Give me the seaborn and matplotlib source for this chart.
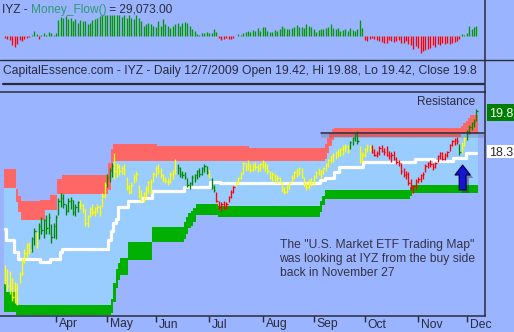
import numpy as np
import pandas as pd
import matplotlib
matplotlib.use("Agg")
import matplotlib.pyplot as plt
import matplotlib.transforms as mtransforms
from matplotlib.lines import Line2D
from matplotlib.patches import Rectangle, FancyArrowPatch
import seaborn as sns

# ---------------- data ----------------
ticker = "IYZ"
start_date, end_date = "2009-03-03", "2009-12-07"
market_holidays = ["2009-04-10", "2009-05-25", "2009-07-03", "2009-09-07", "2009-11-26"]
open_last = 19.42

high = [14.15, 14.00, 13.95, 13.70, 13.55, 13.50, 13.90, 14.40, 14.75, 14.95,
        15.00, 15.20, 15.50, 15.35, 15.70, 15.90, 15.85, 16.00, 16.05, 15.65,
        15.70, 16.00, 16.60, 16.80, 16.75, 16.40, 16.60, 16.65, 16.55, 16.40,
        16.50, 16.55, 16.40, 16.20, 16.00, 16.30, 16.40, 16.30, 16.40, 16.35,
        16.80, 17.20, 17.50, 17.70, 17.90, 18.25, 17.90, 17.85, 17.80, 17.85,
        17.40, 17.10, 17.20, 17.50, 17.60, 17.10, 16.90, 16.85, 17.05, 17.25,
        17.30, 17.55, 17.80, 17.85, 17.70, 17.50, 17.40, 17.35, 17.55, 17.65,
        18.05, 17.85, 17.75, 17.60, 17.55, 17.35, 17.20, 17.45, 17.50, 17.65,
        17.70, 17.75, 17.85, 17.80, 17.65, 17.35, 17.10, 16.85, 16.50, 16.45,
        16.50, 16.45, 16.70, 16.90, 17.05, 17.25, 17.40, 17.55, 17.95, 17.90,
        18.00, 17.85, 17.90, 17.95, 17.85, 17.90, 18.00, 17.95, 17.85, 17.60,
        17.55, 17.50, 17.45, 17.40, 17.20, 17.00, 17.10, 17.20, 17.45, 17.60,
        17.70, 17.75, 17.70, 17.40, 17.20, 17.30, 17.35, 17.45, 17.60, 17.70,
        17.65, 17.75, 17.90, 18.05, 18.20, 18.25, 18.35, 18.40, 18.45, 18.55,
        18.60, 18.55, 18.70, 18.85, 19.00, 19.05, 18.50, 18.30, 18.45, 18.60,
        18.55, 18.55, 18.40, 18.35, 18.50, 18.55, 18.45, 18.50, 18.35, 18.30,
        18.35, 18.10, 18.00, 17.90, 17.70, 17.60, 17.55, 17.30, 17.10, 17.30,
        17.40, 17.50, 17.55, 17.85, 17.95, 18.00, 17.90, 17.95, 18.20, 18.30,
        18.30, 18.25, 18.35, 18.60, 18.75, 18.80, 18.85, 18.60, 18.65, 18.85,
        19.10, 19.30, 19.40, 19.50, 19.88]

low = [13.45, 13.20, 13.10, 12.85, 12.75, 12.70, 13.50, 13.80, 14.25, 14.40,
       14.55, 14.65, 14.90, 14.80, 15.10, 15.30, 15.15, 15.30, 15.30, 14.95,
       15.15, 15.10, 16.00, 16.30, 16.25, 16.00, 16.10, 16.20, 16.00, 15.95,
       16.10, 16.20, 16.05, 15.60, 15.55, 15.90, 16.00, 15.95, 16.05, 15.95,
       16.30, 16.60, 17.00, 17.20, 17.40, 17.30, 17.40, 17.45, 17.50, 17.45,
       16.90, 16.75, 16.80, 17.15, 17.25, 16.60, 16.45, 16.45, 16.60, 16.80,
       16.75, 17.20, 17.40, 17.50, 17.35, 17.20, 17.15, 17.10, 17.15, 17.30,
       17.50, 17.50, 17.40, 17.35, 17.30, 17.00, 16.95, 17.10, 17.20, 17.30,
       17.40, 17.45, 17.55, 17.50, 17.35, 16.95, 16.85, 16.45, 16.20, 16.15,
       16.20, 16.20, 16.45, 16.60, 16.80, 17.05, 17.15, 17.30, 17.50, 17.60,
       17.65, 17.55, 17.60, 17.65, 17.55, 17.60, 17.70, 17.60, 17.50, 17.30,
       17.25, 17.20, 17.15, 17.15, 16.85, 16.75, 16.80, 16.95, 17.20, 17.30,
       17.40, 17.45, 17.35, 17.00, 16.90, 16.95, 17.05, 17.10, 17.35, 17.45,
       17.35, 17.50, 17.60, 17.75, 17.90, 17.95, 18.05, 18.10, 18.15, 18.20,
       18.30, 18.25, 18.40, 18.55, 18.70, 18.60, 17.90, 17.95, 18.10, 18.30,
       18.30, 18.25, 18.15, 18.10, 18.20, 18.30, 18.20, 18.15, 18.05, 17.95,
       18.00, 17.85, 17.80, 17.50, 17.40, 17.30, 17.10, 16.90, 16.80, 16.95,
       17.15, 17.20, 17.30, 17.55, 17.70, 17.75, 17.65, 17.70, 17.95, 18.05,
       18.00, 18.00, 18.10, 18.35, 18.50, 18.55, 18.60, 18.20, 18.25, 18.50,
       18.75, 18.95, 19.10, 19.20, 19.42]

close = [13.60, 13.40, 13.30, 13.00, 13.30, 12.90, 13.80, 14.30, 14.60, 14.85,
         14.70, 15.10, 15.40, 14.95, 15.60, 15.45, 15.80, 15.50, 15.90, 15.20,
         15.60, 15.90, 16.50, 16.60, 16.40, 16.15, 16.50, 16.55, 16.10, 16.30,
         16.45, 16.35, 16.20, 15.70, 15.90, 16.20, 16.10, 16.25, 16.30, 16.10,
         16.70, 17.10, 17.40, 17.60, 17.80, 17.60, 17.75, 17.60, 17.70, 17.55,
         17.00, 16.85, 17.10, 17.40, 17.50, 16.70, 16.55, 16.80, 16.95, 17.20,
         16.85, 17.50, 17.70, 17.60, 17.45, 17.30, 17.25, 17.20, 17.50, 17.60,
         17.90, 17.70, 17.50, 17.45, 17.40, 17.10, 17.15, 17.40, 17.45, 17.60,
         17.50, 17.70, 17.80, 17.55, 17.40, 17.00, 16.90, 16.50, 16.30, 16.40,
         16.25, 16.40, 16.65, 16.85, 17.00, 17.20, 17.35, 17.50, 17.90, 17.70,
         17.85, 17.65, 17.80, 17.75, 17.70, 17.85, 17.80, 17.70, 17.60, 17.40,
         17.50, 17.30, 17.35, 17.20, 16.95, 16.85, 17.05, 17.15, 17.40, 17.55,
         17.50, 17.70, 17.40, 17.10, 17.00, 17.25, 17.15, 17.40, 17.55, 17.50,
         17.60, 17.70, 17.85, 18.00, 18.10, 18.20, 18.30, 18.25, 18.40, 18.45,
         18.50, 18.35, 18.65, 18.80, 18.95, 18.70, 18.00, 18.20, 18.40, 18.50,
         18.40, 18.30, 18.20, 18.25, 18.45, 18.35, 18.30, 18.20, 18.15, 18.20,
         18.05, 17.95, 17.90, 17.60, 17.45, 17.50, 17.15, 17.00, 17.05, 17.25,
         17.30, 17.45, 17.50, 17.80, 17.90, 17.85, 17.75, 17.90, 18.15, 18.25,
         18.05, 18.20, 18.30, 18.55, 18.70, 18.75, 18.70, 18.30, 18.55, 18.80,
         19.05, 19.20, 19.35, 19.45, 19.80]

# bar colour state: Y = neutral, G = bullish, R = bearish (run lengths)
bar_state = ["Y", "G", "Y", "G", "Y", "G", "Y", "G", "Y", "G", "R", "Y", "G", "Y", "R", "G", "Y", "G"]
bar_state_runs = [11, 2, 1, 17, 11, 3, 26, 13, 1, 2, 8, 47, 4, 5, 36, 1, 2, 5]

# money flow (thousands)
money_flow = [-5, -8, -12, -28, -33, -25, -12, -14, -8, -5, -4,
              2, 15, 5, -8, 4, 8, 3, 12, 8, 3, 10,
              48, 58, 55, 60, 52, 55, 45, 50, 40, 48, 44, 46, 35, 40, 48, 52, 55, 60, 62, 62,
              62, 62, 62, 62, 62, 62, 58, 62, 55, 62, 55, 50, 62, 55, 45, 30, 35, 40, 35, 30,
              28, 45, 30, 50, 35, 30, 25, 30, 35, 40, 30, 40, 42, 40,
              30, 20, 15, 5, 3, 8, 10, 12, 8, 10, 20, 12,
              -5, -12, -8, -5, -10, -8, -5,
              1,
              5, 3, 8, 12, 15, 12, 18, 15,
              25, 15, 28, 28, 15, 12, 12, 18, 15, 22, 30, 25, 22, 22, 25, 28, 32, 28, 28, 25,
              35, 30, 28, 20, 12, 18, 20, 22, 25, 28, 35, 25, 22, 25, 15, 18, 22, 15, 25, 18,
              15, 20, 48, 25,
              -12, -15, -10, -5, -8, -12, -15, -18, -20, -20, -12, -15, -18, -15, -12, -20,
              -22, -15, -25, -28, -40, -30, -35, -50, -45, -42, -38, -35, -28, -32, -25, -28,
              -22, -25, -20, -25, -20, -18, -15, -10,
              5, 3, 10, 30, 22, 28, 29.073]

# channel bands (value, run length in bars)
red_top_vals = [17.68, 16.94, 16.69, 16.50, 16.54, 16.72, 17.31, 17.46, 17.90, 18.40, 18.59, 18.52,
                18.43, 18.60, 18.80, 19.00, 19.15, 19.18, 19.25, 19.35, 19.45, 19.55, 19.65]
red_top_runs = [5, 1, 1, 8, 4, 3, 2, 19, 1, 1, 18, 38, 31, 1, 1, 1, 1, 52, 1, 1, 1, 1, 3]
red_bot_vals = [16.98, 16.45, 16.10, 15.81, 16.17, 16.76, 16.90, 17.60, 17.97, 18.05, 18.25, 18.50,
                18.75, 18.85, 18.95]
red_bot_runs = [5, 1, 1, 10, 5, 21, 1, 1, 87, 1, 1, 1, 1, 52, 7]
mid_vals = [15.48, 15.07, 14.64, 14.38, 14.27, 14.38, 14.64, 14.75, 15.07, 15.40, 15.70, 15.85,
            16.28, 16.50, 16.61, 16.86, 17.02, 17.20, 17.16, 17.27, 17.35, 17.57, 17.75, 17.93,
            18.04, 17.97, 18.08, 18.26]
mid_runs = [1, 3, 2, 9, 4, 4, 1, 19, 1, 1, 1, 1, 4, 6, 4, 13, 11, 4, 41, 2, 4, 2, 10, 21, 8, 8, 5, 5]
grn_top_vals = [13.46, 13.17, 12.69, 12.90, 13.50, 14.00, 14.25, 14.40, 15.00, 15.55, 15.75, 15.90,
                16.05, 16.15, 16.25, 16.39, 16.32, 16.50, 16.70, 16.91, 17.00, 17.09]
grn_top_runs = [1, 4, 39, 1, 1, 1, 1, 3, 10, 13, 1, 1, 1, 1, 1, 9, 42, 1, 1, 35, 1, 27]
grn_bot_vals = [12.44, 12.33, 12.40, 12.80, 13.30, 13.60, 13.80, 14.34, 15.00, 15.10, 15.30, 15.50,
                15.60, 15.75, 15.99, 15.92, 16.10, 16.35, 16.58, 16.70, 16.80]
grn_bot_runs = [5, 39, 1, 1, 1, 1, 3, 10, 13, 1, 1, 1, 1, 1, 9, 42, 1, 1, 35, 1, 27]

resistance_level = 19.0
resistance_from = "2009-09-04"
signal_date = "2009-11-25"
note_lines = ['The "U.S. Market ETF Trading Map"',
              'was looking at IYZ from the buy side',
              'back in November 27']

# ---------------- styling ----------------
sns.set_style("white")
plt.rcParams['font.family'] = ['Liberation Sans', 'DejaVu Sans']

BG = '#9BB4FF'
LIGHT = '#99CCFF'
RED_BAND = '#FF6666'
GRN_BAND = '#00B000'
DARK = '#2A2A3A'
BAR_COL = {'Y': '#FFFF00', 'G': '#008A00', 'R': '#FF0000'}

W, H = 514, 332
def fx(x): return x / W
def fy(y): return 1 - y / H

dates = pd.bdate_range(start_date, end_date)
dates = dates[~dates.isin(pd.to_datetime(market_holidays))]
n = len(dates)
idx = np.arange(n)
hi = np.array(high); lo = np.array(low); cl = np.array(close)
colors = [BAR_COL[s] for s in np.repeat(bar_state, bar_state_runs)]

red_top = np.repeat(red_top_vals, red_top_runs)
red_bot = np.repeat(red_bot_vals, red_bot_runs)
mid = np.repeat(mid_vals, mid_runs)
g_top = np.repeat(grn_top_vals, grn_top_runs)
g_bot = np.repeat(grn_bot_vals, grn_bot_runs)

fig = plt.figure(figsize=(W / 100, H / 100), dpi=100, facecolor=BG)
XL = (-2.06, 197.5)

# ---- money flow panel ----
ax_mf = fig.add_axes([0, fy(60), 485 / W, 60 / H], facecolor=BG)
mf = np.array(money_flow)
ax_mf.vlines(idx, 0, mf, colors=np.where(mf >= 0, '#009A00', '#FF0000'), lw=0.95)
ax_mf.set_xlim(*XL)
ax_mf.set_ylim(-72, 108)
ax_mf.set_axis_off()

FS = 8.6
t1 = fig.text(fx(2), fy(12.7), f"{ticker} - ", color=DARK, fontsize=FS, va='baseline')
t2 = ax_mf.annotate("Money_Flow()", xy=(1, 0), xycoords=t1, va='bottom', ha='left',
                    color='#2F9A6E', fontsize=FS)
ax_mf.annotate(f" = {mf[-1] * 1000:,.2f}", xy=(1, 0), xycoords=t2, va='bottom', ha='left',
               color=DARK, fontsize=FS)

# header line
d = dates[-1]
header = (f"CapitalEssence.com - {ticker} - Daily {d.month}/{d.day}/{d.year} "
          f"Open {open_last:.2f}, Hi {hi[-1]:.2f}, Lo {lo[-1]:.2f}, Close {cl[-1]:g}")
fig.text(fx(3), fy(74), header, color=DARK, fontsize=8.72, va='baseline')

# ---- main price panel ----
ax = fig.add_axes([0, fy(316), 485 / W, (316 - 92) / H], facecolor=BG)
xe = np.append(idx, n) - 0.5
ext = lambda a: np.append(a, a[-1])
ax.fill_between(xe, ext(g_top), ext(red_bot), step='post', color=LIGHT, lw=0, zorder=1)
ax.fill_between(xe, ext(red_bot), ext(red_top), step='post', color=RED_BAND, lw=0, zorder=2)
ax.fill_between(xe, ext(g_bot), ext(g_top), step='post', color=GRN_BAND, lw=0, zorder=2)
sns.lineplot(x=idx, y=mid, ax=ax, color='white', lw=2.3, drawstyle='steps-mid',
             estimator=None, zorder=3)

ax.vlines(idx, lo, hi, colors=colors, lw=0.95, zorder=4)
ax.hlines(cl, idx, idx + 0.55, colors=colors, lw=0.95, zorder=4)

# resistance line
r0 = int(np.searchsorted(dates, pd.Timestamp(resistance_from)))
ax.plot([r0, XL[1]], [resistance_level - 0.09] * 2, color='#5A5A70', lw=4, alpha=0.25, zorder=5,
        solid_capstyle='butt')
ax.plot([r0, XL[1]], [resistance_level] * 2, color='#303040', lw=1.1, zorder=6)

# buy-side arrow
si = int(np.searchsorted(dates, pd.Timestamp(signal_date))) + 1.3
style = 'simple,head_length=0.65,head_width=1.0,tail_width=0.45'
shadow = FancyArrowPatch((si + 1.2, 16.80), (si + 1.2, 17.71), arrowstyle=style, mutation_scale=11,
                         fc='#303050', ec='none', alpha=0.45, shrinkA=0, shrinkB=0, zorder=6)
ax.add_patch(shadow)
arr = FancyArrowPatch((si, 16.91), (si, 17.82), arrowstyle=style, mutation_scale=11,
                      fc='#1414D2', ec='#000040', lw=0.8, shrinkA=0, shrinkB=0, zorder=7)
ax.add_patch(arr)

ax.text(fx(417), fy(105), "Resistance", transform=fig.transFigure, color=DARK, fontsize=8.5,
        va='baseline', zorder=8)
for k, line in enumerate(note_lines):
    fig.text(fx(279.5), fy(248 + 14 * k), line, color='#333344', fontsize=8.7, va='baseline')

ax.set_xlim(*XL)
ax.set_ylim(12.291, 20.496)
ax.set_yticks([])
month_first = pd.Series(idx, index=dates).groupby(dates.to_period('M')).first().iloc[1:]
ax.set_xticks(month_first.values)
ax.set_xticklabels([])
ax.tick_params(axis='x', direction='out', length=4, width=1, color=DARK, bottom=True)
trans = mtransforms.blended_transform_factory(ax.transData, fig.transFigure)
for p, pos in zip(month_first.index, month_first.values):
    ax.text(pos + 1.2, fy(327.5), p.strftime('%b'), transform=trans, color=DARK, fontsize=8.7,
            va='baseline', ha='left', clip_on=False)
for s in ['top', 'right', 'bottom']:
    ax.spines[s].set_color(DARK)
    ax.spines[s].set_linewidth(1.1)
ax.spines['left'].set_visible(False)

# frame lines
fig.add_artist(Line2D([0, 1], [fy(60)] * 2, color=DARK, lw=1.0))
fig.add_artist(Line2D([fx(3), fx(484)], [fy(84)] * 2, color=DARK, lw=1.6))
fig.add_artist(Line2D([fx(485)] * 2, [fy(0), fy(92)], color=DARK, lw=1.1))

# right side value tags
fig.add_artist(Rectangle((fx(487), fy(121)), 27 / W, 17 / H, transform=fig.transFigure,
                         fc='#008000', ec='none'))
fig.text(fx(489.5), fy(117), f"{cl[-1]:.1f}", color='white', fontsize=9, va='baseline')
fig.add_artist(Rectangle((fx(487), fy(158)), 27 / W, 13 / H, transform=fig.transFigure,
                         fc='white', ec='none'))
fig.text(fx(489.5), fy(156.5), f"{mid[-1]:.1f}", color=DARK, fontsize=9, va='baseline')

fig.savefig("out.png", dpi=100, facecolor=BG)
